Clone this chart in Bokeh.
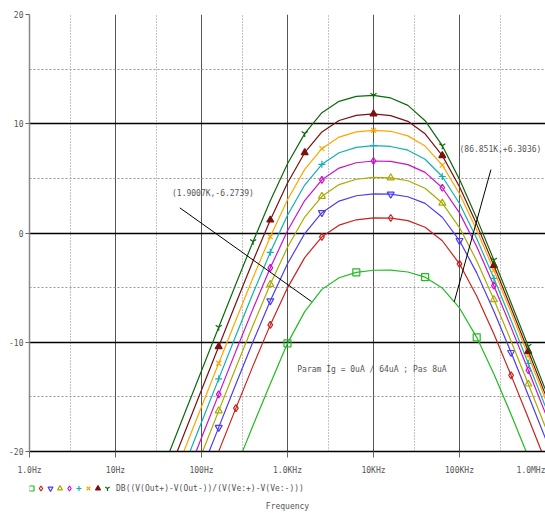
from bokeh.plotting import figure
from bokeh.layouts import column
from bokeh.models import FixedTicker, Label, Range1d
from bokeh.embed import file_html
from bokeh.resources import INLINE

# ---------------- data ----------------
freq_hz = [25.1, 39.8, 63.1, 100, 158.5, 251.2, 398.1, 631, 1000, 1585, 2512, 3981,
           6310, 10000, 15849, 25119, 39811, 63096, 100000, 158489, 251189, 398107,
           630957, 1000000]

ig_labels = ["0uA", "8uA", "16uA", "24uA", "32uA", "40uA", "48uA", "56uA", "64uA"]

gain_0ua = [-40.8, -36.8, -32.8, -29.0, -25.3, -21.5, -17.6, -13.8, -10.1, -7.2, -5.16, -4.10,
            -3.60, -3.41, -3.40, -3.57, -4.04, -5.04, -6.86, -9.55, -12.90, -16.61, -20.49, -24.44]
gain_8ua = [-35.96, -31.96, -27.95, -23.97, -19.99, -16.03, -12.14, -8.41, -5.02, -2.25, -0.35, 0.72,
            1.21, 1.39, 1.37, 1.13, 0.53, -0.71, -2.82, -5.76, -9.25, -13.03, -16.94, -20.90]
gain_16ua = [-33.76, -29.76, -25.75, -21.77, -17.79, -13.83, -9.94, -6.21, -2.82, -0.05, 1.86, 2.92,
             3.41, 3.59, 3.56, 3.32, 2.71, 1.44, -0.69, -3.65, -7.16, -10.94, -14.86, -18.82]
gain_24ua = [-32.25, -28.25, -24.24, -20.26, -16.28, -12.32, -8.43, -4.70, -1.31, 1.46, 3.36, 4.43,
             4.92, 5.09, 5.05, 4.78, 4.10, 2.74, 0.50, -2.54, -6.09, -9.90, -13.82, -17.79]
gain_32ua = [-30.74, -26.74, -22.73, -18.75, -14.77, -10.81, -6.92, -3.19, 0.20, 2.97, 4.87, 5.94,
             6.43, 6.59, 6.55, 6.26, 5.55, 4.14, 1.84, -1.24, -4.82, -8.64, -12.56, -16.53]
gain_40ua = [-29.32, -25.32, -21.31, -17.33, -13.35, -9.39, -5.50, -1.77, 1.62, 4.39, 6.29, 7.35,
             7.84, 8.00, 7.92, 7.58, 6.75, 5.17, 2.70, -0.51, -4.15, -8.00, -11.93, -15.91]
gain_48ua = [-27.89, -23.89, -19.88, -15.90, -11.92, -7.96, -4.07, -0.34, 3.05, 5.82, 7.72, 8.78,
             9.26, 9.40, 9.31, 8.89, 7.96, 6.21, 3.59, 0.28, -3.41, -7.28, -11.23, -15.21]
gain_56ua = [-26.36, -22.36, -18.35, -14.37, -10.39, -6.43, -2.54, 1.19, 4.58, 7.35, 9.25, 10.30,
             10.77, 10.90, 10.74, 10.22, 9.08, 7.08, 4.23, 0.79, -2.97, -6.87, -10.83, -14.81]
gain_64ua = [-24.60, -20.60, -16.59, -12.61, -8.63, -4.67, -0.78, 2.95, 6.34, 9.10, 11.01, 12.05,
             12.51, 12.60, 12.36, 11.68, 10.28, 7.99, 4.91, 1.34, -2.48, -6.40, -10.37, -14.36]

# which data points of each trace carry a marker
marks_0ua = [5, 8, 12, 16, 19, 22]
marks_8ua = [5, 7, 10, 14, 18, 21]
marks_16ua = [4, 7, 10, 14, 18, 21]
marks_24ua = [4, 7, 10, 14, 17, 20, 22]
marks_32ua = [4, 7, 10, 13, 17, 20, 22]
marks_40ua = [4, 7, 10, 13, 17, 20, 22]
marks_48ua = [4, 7, 10, 13, 17, 20, 22]
marks_56ua = [4, 7, 9, 13, 17, 20, 22]
marks_64ua = [4, 6, 9, 13, 17, 20, 22]

x_ticks = [1, 10, 100, 1000, 10000, 100000, 1000000]
x_minor = [3, 30, 300, 3000, 30000, 300000]
x_tick_labels = ["1.0Hz", "10Hz", "100Hz", "1.0KHz", "10KHz", "100KHz", "1.0MHz"]
y_ticks = [-20, -10, 0, 10, 20]
y_minor = [-15, -5, 5, 15]
y_tick_labels = ["-20", "-10", "0", "10", "20"]

x_title = "Frequency"
trace_name = "DB((V(Out+)-V(Out-))/(V(Ve:+)-V(Ve:-)))"
cursor1 = (1900.7, -6.2739, "(1.9007K,-6.2739)")
cursor2 = (86851, -6.3036, "(86.851K,+6.3036)")
param_text = "Param Ig = 0uA / 64uA ; Pas 8uA"

# ---------------- styles ----------------
gains = [gain_0ua, gain_8ua, gain_16ua, gain_24ua, gain_32ua, gain_40ua, gain_48ua, gain_56ua, gain_64ua]
marks = [marks_0ua, marks_8ua, marks_16ua, marks_24ua, marks_32ua, marks_40ua, marks_48ua, marks_56ua, marks_64ua]
colors = ["#22bb22", "#c8231e", "#4b3cf0", "#aaaa00", "#cc11cc", "#13b0b0", "#ffa500", "#7a1010", "#0b690b"]
markers = ["square", "diamond", "inverted_triangle", "triangle", "diamond", "cross", "x", "triangle", "y"]
filled = [False, False, False, False, False, False, False, True, False]

FONT = "DejaVu Sans Mono"
TXT = "#555555"
W = 545
H1, H2 = 480, 33
LB, TB, BB = 29, 14, 29

p = figure(width=W, height=H1, x_axis_type="log",
           x_range=Range1d(1, 1000000), y_range=Range1d(-20, 20),
           output_backend="svg", toolbar_location=None,
           min_border_top=TB, min_border_right=0, min_border_left=LB, min_border_bottom=BB,
           outline_line_color=None, background_fill_color="white", border_fill_color="white")
p.title.visible = False

xt = FixedTicker(ticks=x_ticks, minor_ticks=x_minor)
yt = FixedTicker(ticks=y_ticks, minor_ticks=y_minor)
xa = p.xaxis[0]
ya = p.yaxis[0]
xa.ticker = xt
ya.ticker = yt
p.xgrid[0].ticker = xt
p.ygrid[0].ticker = yt
xa.major_label_overrides = {float(t): s for t, s in zip(x_ticks, x_tick_labels)}
ya.major_label_overrides = {float(t): s for t, s in zip(y_ticks, y_tick_labels)}

for ax in (xa, ya):
    ax.major_label_text_font = FONT
    ax.major_label_text_font_size = "8px"
    ax.major_label_text_color = TXT
    ax.minor_tick_line_color = None
    ax.major_tick_in = 0
    ax.major_tick_line_color = "#666666"
xa.major_tick_out = 6
xa.major_label_standoff = 8
xa.axis_line_color = "black"
xa.axis_line_width = 1.6
ya.major_tick_out = 4
ya.major_label_standoff = 2
ya.axis_line_color = "#888888"
ya.axis_line_width = 1.5

p.xgrid.grid_line_color = "#555555"
p.xgrid.grid_line_width = 1
p.xgrid.minor_grid_line_color = "#888888"
p.xgrid.minor_grid_line_dash = "1 2"
p.ygrid.grid_line_color = "black"
p.ygrid.grid_line_width = 1.6
p.ygrid.minor_grid_line_color = "#999999"
p.ygrid.minor_grid_line_dash = "2 2"

for g, mk, c, m, f in zip(gains, marks, colors, markers, filled):
    p.line(freq_hz, g, line_color=c, line_width=1.2)
    p.scatter([freq_hz[i] for i in mk], [g[i] for i in mk], marker=m, size=7,
              line_color=c, line_width=1.2, fill_color=c if f else None)

# cursor labels with leader lines
p.add_layout(Label(x=45.4, y=3.6, text=cursor1[2], text_font=FONT, text_font_size="8px",
                   text_color=TXT, text_baseline="middle"))
p.line([56, cursor1[0]], [2.3, cursor1[1]], line_color="black", line_width=1)
p.add_layout(Label(x=100000, y=7.6, text=cursor2[2], text_font=FONT, text_font_size="8px",
                   text_color=TXT, text_baseline="middle"))
p.line([232000, cursor2[0]], [5.8, cursor2[1]], line_color="black", line_width=1)
p.add_layout(Label(x=1300, y=-12.5, text=param_text, text_font=FONT, text_font_size="8px",
                   text_color=TXT, text_baseline="middle"))

# ---------------- legend row and axis title (strip under the plot) ----------------
# the column layout aligns this strip's frame with the main frame (page x = LB .. W)
p2 = figure(width=W, height=H2, x_range=Range1d(LB, W), y_range=Range1d(0, H2),
            output_backend="svg", toolbar_location=None,
            x_axis_location=None, y_axis_location=None,
            min_border_top=0, min_border_right=0, min_border_left=LB, min_border_bottom=0,
            outline_line_color=None, background_fill_color="white", border_fill_color="white")
p2.title.visible = False
p2.grid.visible = False

ROW_Y = H2 - 8
KEY_X0, KEY_DX = 31, 9.5
for i, (c, m, f) in enumerate(zip(colors, markers, filled)):
    p2.scatter([KEY_X0 + KEY_DX * i], [ROW_Y], marker=m, size=5, line_color=c, line_width=1.2,
               fill_color=c if f else None)
p2.add_layout(Label(x=KEY_X0 + KEY_DX * len(colors) - 1, y=ROW_Y,
                    text=trace_name, text_baseline="middle", text_font=FONT,
                    text_font_size="8px", text_color=TXT))
p2.add_layout(Label(x=(LB + W) / 2, y=7, text=x_title,
                    text_align="center", text_baseline="middle", text_font=FONT,
                    text_font_size="8px", text_color=TXT))

open("out.html", "w").write(file_html(column(p, p2, spacing=0), INLINE))
